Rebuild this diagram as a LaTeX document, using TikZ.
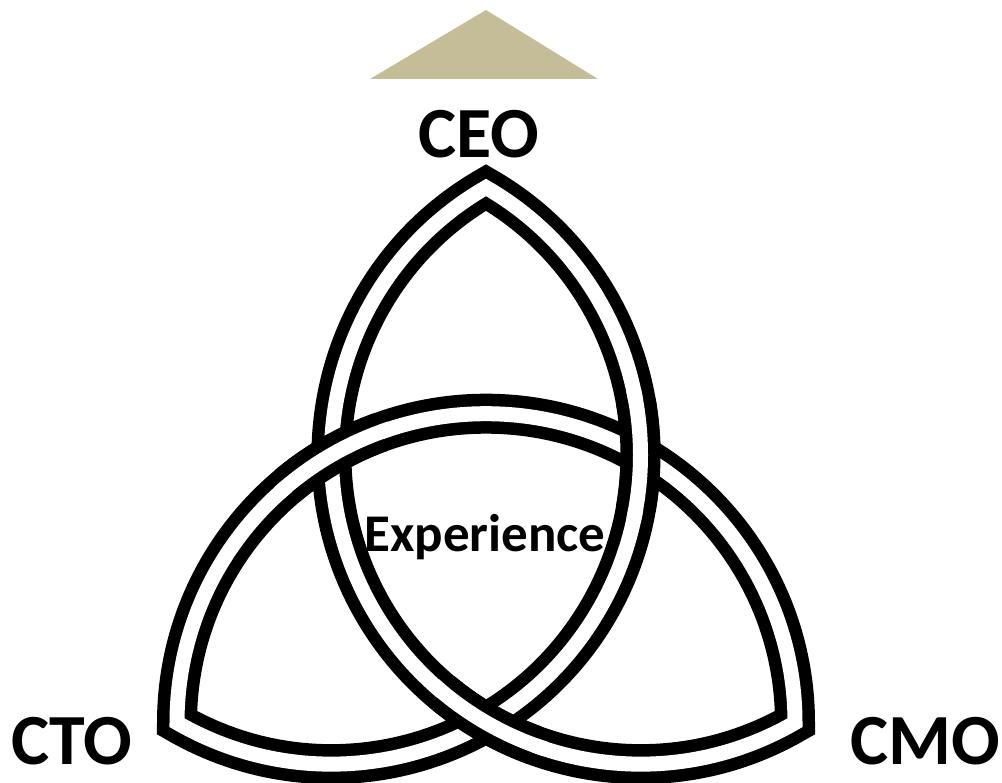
\documentclass[tikz,border=0pt]{standalone}
\usepackage{fontspec}
\setmainfont{Carlito}
\definecolor{beige}{RGB}{196,189,151}
\begin{document}
\begin{tikzpicture}[x=1pt,y=1pt,
  band/.style={draw=black, line width=12.5pt, double=white, double distance=15pt, line join=miter},
  bandblack/.style={draw=black, line width=40pt, line cap=butt},
  bandwhite/.style={draw=white, line width=15pt, line cap=butt},
  lbl/.style={font=\fontsize{72}{72}\selectfont\bfseries, anchor=base, inner sep=0pt},
  midlbl/.style={font=\fontsize{53}{53}\selectfont\bfseries, anchor=base, inner sep=0pt},
]
\useasboundingbox (0,0) rectangle (1002,783);
\coordinate (T) at (486,595.5);
\coordinate (L) at (177,60.5);
\coordinate (R) at (795,60.5);
\coordinate (cA) at (486,60.5);
\coordinate (cB) at (640.5,328);
\coordinate (cC) at (331.5,328);
\fill[beige] (370,704) -- (486,773) -- (598,704) -- cycle;
% the knot: one closed band
\draw[band] (T) arc[start angle=60,end angle=-120,radius=309]
  arc[start angle=180,end angle=0,radius=309]
  arc[start angle=-60,end angle=-240,radius=309] -- cycle;
% over-crossings
% upper left: arc A over arc B
\draw[bandblack] ([shift={(110:309)}]cA) arc[start angle=110,end angle=130,radius=309];
\draw[bandwhite] ([shift={(108:309)}]cA) arc[start angle=108,end angle=132,radius=309];
% upper right: arc C over arc A
\draw[bandblack] ([shift={(-10:309)}]cC) arc[start angle=-10,end angle=10,radius=309];
\draw[bandwhite] ([shift={(-12:309)}]cC) arc[start angle=-12,end angle=12,radius=309];
% bottom: arc B over arc C
\draw[bandblack] ([shift={(230:309)}]cB) arc[start angle=230,end angle=250,radius=309];
\draw[bandwhite] ([shift={(228:309)}]cB) arc[start angle=228,end angle=252,radius=309];
\node[lbl] (ceo) at (479,625) {CEO};
\node[lbl] (cto) at (72,18.5) {CTO};
\node[lbl] (cmo) at (925,18.5) {CMO};
\node[midlbl] (exp) at (485,231) {Experience};
\end{tikzpicture}
\end{document}
